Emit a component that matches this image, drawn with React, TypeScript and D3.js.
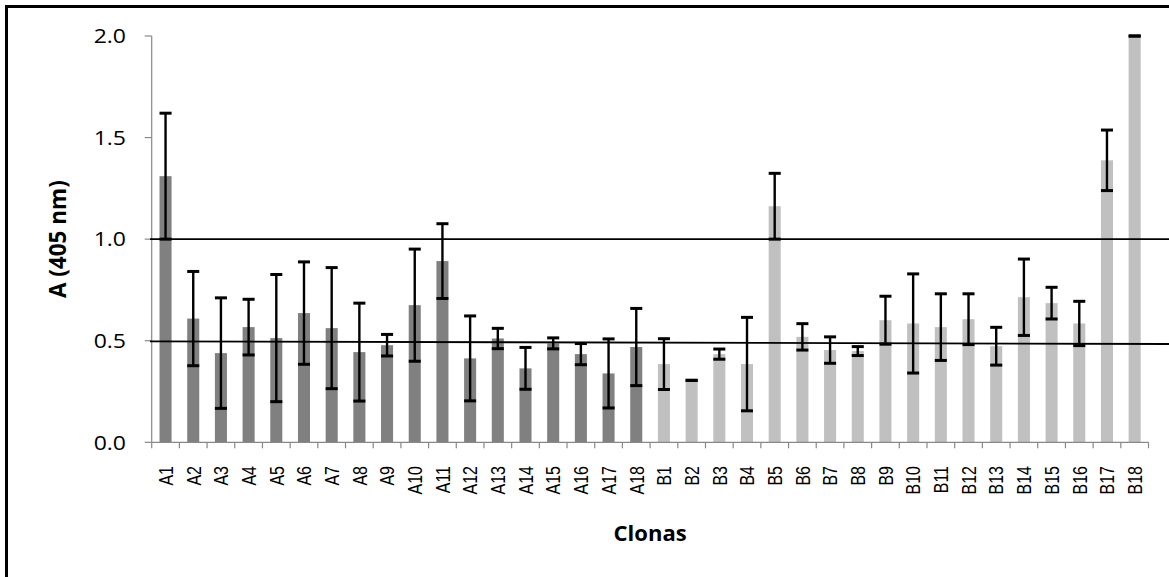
import React from "react";
import * as d3 from "d3";

const categories = [
  "A1","A2","A3","A4","A5","A6","A7","A8","A9","A10","A11","A12","A13","A14","A15","A16","A17","A18",
  "B1","B2","B3","B4","B5","B6","B7","B8","B9","B10","B11","B12","B13","B14","B15","B16","B17","B18",
];
const values = [
  1.31, 0.609, 0.439, 0.567, 0.513, 0.636, 0.562, 0.444, 0.478, 0.675, 0.892, 0.413, 0.511, 0.364, 0.487, 0.434, 0.339, 0.469,
  0.385, 0.305, 0.434, 0.385, 1.162, 0.519, 0.454, 0.449, 0.601, 0.585, 0.567, 0.606, 0.473, 0.714, 0.685, 0.585, 1.388, 2.0,
];
const errors = [
  0.31, 0.232, 0.272, 0.137, 0.313, 0.252, 0.298, 0.241, 0.053, 0.276, 0.184, 0.209, 0.05, 0.103, 0.027, 0.052, 0.17, 0.19,
  0.125, 0.0, 0.025, 0.23, 0.162, 0.065, 0.065, 0.022, 0.118, 0.244, 0.164, 0.125, 0.093, 0.188, 0.078, 0.109, 0.149, 0.0,
];
const groupColors = { A: "#808080", B: "#c0c0c0" };
const yTicks = [0, 0.5, 1.0, 1.5, 2.0];
// reference lines: value at left end, value at right end
const refLines = [
  { left: 1.0, right: 1.0 },
  { left: 0.497, right: 0.484 },
];

export default function App() {
  const W = 1169, H = 577;
  const x0 = 151.7, x1 = 1148.5, yTop = 36, yBot = 442.3;
  const x = d3.scaleBand<string>().domain(categories).range([x0, x1]).padding(0);
  const y = d3.scaleLinear().domain([0, 2]).range([yBot, yTop]);
  const bw = x.bandwidth() * 0.435;
  const font = "'Open Sans', 'Liberation Sans', sans-serif";
  const axisColor = "#888888";

  return (
    <svg width={W} height={H} style={{ position: "absolute", left: 0, top: 0, background: "#fff" }}>
      <rect x={0} y={0} width={W} height={H} fill="#fff" />
      {/* outer frame (left and top edges visible) */}
      <path d={`M6.5,${H} V6.5 H${W}`} fill="none" stroke="#000" strokeWidth={3} />

      {/* bars */}
      {categories.map((c, i) => {
        const cx = (x(c) as number) + x.bandwidth() / 2;
        return (
          <rect
            key={c}
            x={cx - bw / 2}
            y={y(values[i])}
            width={bw}
            height={y(0) - y(values[i])}
            fill={c.startsWith("A") ? groupColors.A : groupColors.B}
          />
        );
      })}

      {/* axes */}
      <line x1={x0} x2={x0} y1={yTop} y2={yBot} stroke={axisColor} strokeWidth={1.2} />
      <line x1={x0} x2={x1} y1={yBot} y2={yBot} stroke={axisColor} strokeWidth={1.2} />
      {yTicks.map((t) => (
        <g key={t}>
          <line x1={x0 - 7} x2={x0} y1={y(t)} y2={y(t)} stroke={axisColor} strokeWidth={1.2} />
          <text
            transform={`translate(126,${y(t)}) scale(1.15,1)`}
            dy="0.36em"
            textAnchor="end"
            fontFamily={font}
            fontSize={20}
            fill="#000"
          >
            {t.toFixed(1)}
          </text>
        </g>
      ))}
      {categories.map((c) => (
        <line key={"t" + c} x1={x(c) as number} x2={x(c) as number} y1={yBot} y2={yBot + 6} stroke={axisColor} strokeWidth={1.2} />
      ))}
      <line x1={x1} x2={x1} y1={yBot} y2={yBot + 6} stroke={axisColor} strokeWidth={1.2} />

      {/* reference lines */}
      {refLines.map((r, i) => (
        <line key={"r" + i} x1={150} x2={W} y1={y(r.left)} y2={y(r.right)} stroke="#000" strokeWidth={1.8} />
      ))}

      {/* error bars */}
      {categories.map((c, i) => {
        const cx = (x(c) as number) + x.bandwidth() / 2;
        const hi = y(values[i] + errors[i]);
        const lo = y(values[i] - errors[i]);
        return (
          <g key={"e" + c} stroke="#000">
            <line x1={cx} x2={cx} y1={hi} y2={lo} strokeWidth={2.4} />
            <line x1={cx - bw / 2} x2={cx + bw / 2} y1={hi} y2={hi} strokeWidth={3} />
            <line x1={cx - bw / 2} x2={cx + bw / 2} y1={lo} y2={lo} strokeWidth={3} />
          </g>
        );
      })}

      {/* x tick labels */}
      {categories.map((c) => {
        const cx = (x(c) as number) + x.bandwidth() / 2;
        return (
          <text
            key={"l" + c}
            transform={`translate(${cx},466) rotate(-90) scale(1,1.3)`}
            textAnchor="end"
            dy="0.35em"
            fontFamily="'Liberation Sans', Arial, sans-serif"
            fontSize={16}
            fill="#000"
          >
            {c}
          </text>
        );
      })}

      {/* axis titles */}
      <text x={(x0 + x1) / 2} y={541} textAnchor="middle" fontFamily={font} fontWeight="bold" fontSize={22} fill="#000">
        Clonas
      </text>
      <text
        transform={`translate(66,${(yTop + yBot) / 2}) rotate(-90)`}
        textAnchor="middle"
        fontFamily={font}
        fontWeight="bold"
        fontSize={22.5}
        fill="#000"
      >
        A (405 nm)
      </text>
    </svg>
  );
}
